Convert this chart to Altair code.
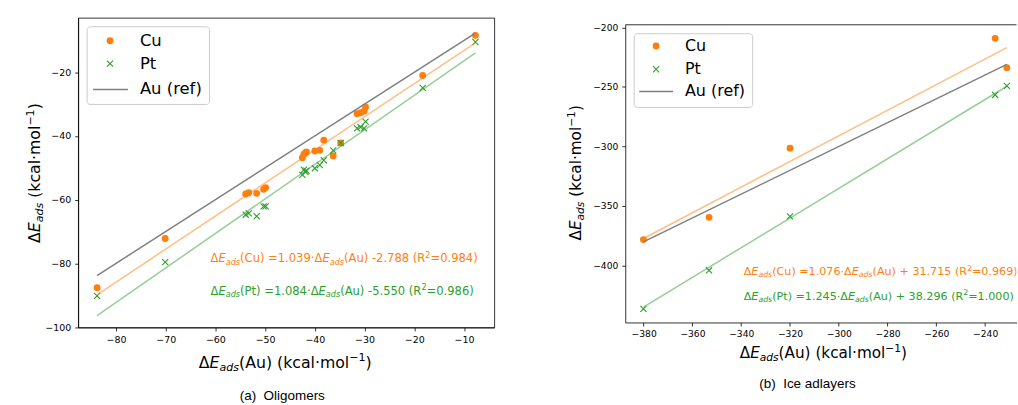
import altair as alt
import pandas as pd

# ---------------- data ----------------
# (a) Oligomers: adsorption energies on Au (x) and on Cu / Pt (y)
olig_au = [-83.8, -70.1, -53.9, -53.3, -51.7, -50.3, -49.9, -42.5, -42.2, -41.9, -41.7,
           -40.0, -39.0, -38.2, -36.3, -34.8, -31.5, -30.8, -30.1, -29.8, -18.3, -7.7]
olig_cu = [-87.6, -72.2, -58.2, -57.8, -58.0, -56.7, -56.2, -46.8, -45.7, -45.3, -45.0,
           -44.7, -44.5, -41.3, -46.3, -42.2, -33.0, -32.7, -32.2, -30.9, -21.0, -8.4]
olig_pt = [-90.2, -79.6, -64.7, -64.3, -65.2, -62.1, -62.1, -52.2, -50.6, -51.2, -50.9,
           -50.1, -49.1, -47.6, -44.5, -42.2, -37.6, -37.2, -37.6, -35.5, -24.9, -10.5]
# (b) Ice adlayers
ice_au = [-380.1, -353.2, -320.0, -235.9, -231.1]
ice_cu = [-378.2, -359.5, -301.4, -209.2, -233.8]
ice_pt = [-436.4, -404.0, -358.7, -256.7, -249.1]

# linear fits shown in the figure: slope, intercept, R^2  (order: Cu, Pt)
olig_slopes = [1.039, 1.084]
olig_inter = [-2.788, -5.550]
olig_r2 = [0.984, 0.986]
ice_slopes = [1.076, 1.245]
ice_inter = [31.715, 38.296]
ice_r2 = [0.969, 1.000]

olig_xticks = [-80, -70, -60, -50, -40, -30, -20, -10]
olig_yticks = [-100, -80, -60, -40, -20]
ice_xticks = [-380, -360, -340, -320, -300, -280, -260, -240]
ice_yticks = [-400, -350, -300, -250, -200]

legend_labels = ["Cu", "Pt", "Au (ref)"]
captions = ["(a)\u00a0\u00a0Oligomers", "(b)\u00a0\u00a0Ice adlayers"]

# ---------------- style ----------------
ORANGE = "#ff7f0e"
GREEN = "#2ca02c"
GRAY = "#7f7f7f"
FONT = "DejaVu Sans"
X_PATH = "M-1,-1L1,1M-1,1L1,-1"

# DejaVu Sans advance widths (em)
W = {" ": 0.318, "(": 0.390, ")": 0.390, "+": 0.838, "-": 0.361, ".": 0.318, "=": 0.838,
     "A": 0.684, "C": 0.698, "E": 0.632, "P": 0.603, "R": 0.695, "a": 0.613, "c": 0.550,
     "d": 0.635, "k": 0.579, "l": 0.278, "m": 0.974, "o": 0.612, "s": 0.521, "t": 0.392,
     "u": 0.634, "\u00b7": 0.318, "\u0394": 0.684, "\u2212": 0.838}
for _d in "0123456789":
    W[_d] = 0.636

ONE = pd.DataFrame({"k": [0]})


def seg_marks(segments, fs, color, base, start=None, center=None, rotated=False, clip=False):
    pieces = []
    for text, kind in segments:
        size = fs * 0.7 if kind in ("sub", "sup") else fs
        shift = 0.18 * fs if kind == "sub" else (-0.42 * fs if kind == "sup" else 0.0)
        w = sum(W.get(c, 0.6) for c in text) * size
        lead = (len(text) - len(text.lstrip(" "))) * W[" "] * size
        pieces.append((text.strip(" "), size, kind in ("i", "sub"), shift, w, lead))
    total = sum(p[4] for p in pieces)
    if rotated:
        pos = center + total / 2
    else:
        pos = start if start is not None else center - total / 2
    layers = []
    for text, size, ital, shift, w, lead in pieces:
        kw = dict(text=text, align="left", baseline="alphabetic", font=FONT, fontSize=size,
                  fontStyle="italic" if ital else "normal", color=color)
        if rotated:
            kw["angle"] = 270
            m = alt.Chart(ONE).mark_text(**kw).encode(x=alt.value(base + shift),
                                                      y=alt.value(pos - lead))
            pos -= w
        else:
            if clip:
                kw["clip"] = True
            m = alt.Chart(ONE).mark_text(**kw).encode(x=alt.value(pos + lead),
                                                      y=alt.value(base + shift))
            pos += w
        layers.append(m)
    return layers


def eq_segments(metal, slope, inter, r2):
    it = f" -{abs(inter):.3f}" if inter < 0 else f" + {inter:.3f}"
    return [("\u0394", "n"), ("E", "i"), ("ads", "sub"), (f"({metal}) ={slope:.3f}", "n"),
            ("\u00b7", "n"), ("\u0394", "n"), ("E", "i"), ("ads", "sub"),
            (f"(Au){it} (R", "n"), ("2", "sup"), (f"={r2:.3f})", "n")]


XT = [("\u0394", "n"), ("E", "i"), ("ads", "sub"), ("(Au) (kcal\u00b7mol", "n"),
      ("\u22121", "sup"), (")", "n")]
YT = [("\u0394", "n"), ("E", "i"), ("ads", "sub"), (" (kcal\u00b7mol", "n"),
      ("\u22121", "sup"), (")", "n")]


def axis(values, fs):
    return alt.Axis(values=values, title=None, grid=False, domainColor="black", domainWidth=0.8,
                    tickColor="black", tickSize=3.5, tickWidth=0.8, labelFont=FONT,
                    labelFontSize=fs, labelColor="black", labelPadding=4,
                    labelOverlap=False, labelFlush=False)


def panel(au, cu, pt, slopes, inters, r2s, xdom, ydom, xticks, yticks, width, height,
          yrange, tick_fs, title_fs, xt_center, xt_base, yt_center, yt_base,
          leg, ann_start, ann_bases, ann_fs, ann_clip, cap, cap_xy, cap_fs, framed):
    xs = alt.Scale(domain=xdom, nice=False, zero=False)
    yk = dict(domain=ydom, nice=False, zero=False)
    if yrange is not None:
        yk["range"] = yrange
    ys = alt.Scale(**yk)
    ax_x = axis(xticks, tick_fs)
    ax_y = axis(yticks, tick_fs)
    X = alt.X("x:Q", scale=xs, axis=ax_x)
    Y = alt.Y("y:Q", scale=ys, axis=ax_y)

    df_cu = pd.DataFrame({"x": au, "y": cu})
    df_pt = pd.DataFrame({"x": au, "y": pt})
    lo, hi = min(au), max(au)
    layers = []
    layers.append(alt.Chart(df_cu).mark_point(filled=True, shape="circle", size=48,
                                               color=ORANGE, opacity=1).encode(x=X, y=Y))
    layers.append(alt.Chart(df_pt).mark_point(filled=False, shape=X_PATH, size=38, color=GREEN,
                                               strokeWidth=1.1, opacity=1).encode(x=X, y=Y))
    for s, b, col in zip(slopes, inters, [ORANGE, GREEN]):
        dfl = pd.DataFrame({"x": [lo, hi], "y": [s * lo + b, s * hi + b]})
        layers.append(alt.Chart(dfl).mark_line(color=col, opacity=0.5, strokeWidth=1.5)
                      .encode(x=X, y=Y))
    dfa = pd.DataFrame({"x": [lo, hi], "y": [lo, hi]})
    layers.append(alt.Chart(dfa).mark_line(color=GRAY, strokeWidth=1.5).encode(x=X, y=Y))

    if not framed:
        layers.append(alt.Chart(ONE).mark_rule(color="black", strokeWidth=0.8).encode(
            x=alt.value(0), x2=alt.value(width), y=alt.value(yrange[1])))

    # legend
    (bx1, by1, bx2, by2, sx, ycu, ypt, yau, lx1, lx2, tx, lfs) = leg
    layers.append(alt.Chart(ONE).mark_rect(fill="white", fillOpacity=0.8, stroke="#cccccc",
                                           strokeWidth=1, cornerRadius=3).encode(
        x=alt.value(bx1), x2=alt.value(bx2), y=alt.value(by1), y2=alt.value(by2)))
    layers.append(alt.Chart(ONE).mark_point(filled=True, shape="circle", size=48, color=ORANGE,
                                            opacity=1).encode(x=alt.value(sx), y=alt.value(ycu)))
    layers.append(alt.Chart(ONE).mark_point(filled=False, shape=X_PATH, size=38, color=GREEN,
                                            strokeWidth=1.1, opacity=1).encode(
        x=alt.value(sx), y=alt.value(ypt)))
    layers.append(alt.Chart(ONE).mark_rule(color=GRAY, strokeWidth=1.5).encode(
        x=alt.value(lx1), x2=alt.value(lx2), y=alt.value(yau)))
    for lab, yy in zip(legend_labels, [ycu, ypt, yau]):
        layers.append(alt.Chart(ONE).mark_text(text=lab, align="left", baseline="middle",
                                               font=FONT, fontSize=lfs, color="black").encode(
            x=alt.value(tx), y=alt.value(yy)))

    # fit equations
    for metal, s, b, r2, col, base in zip(["Cu", "Pt"], slopes, inters, r2s, [ORANGE, GREEN],
                                          ann_bases):
        layers += seg_marks(eq_segments(metal, s, b, r2), ann_fs, col, base, start=ann_start,
                            clip=ann_clip)

    # axis titles
    layers += seg_marks(XT, title_fs, "black", xt_base, center=xt_center)
    layers += seg_marks(YT, title_fs, "black", yt_base, center=yt_center, rotated=True)

    # caption
    layers.append(alt.Chart(ONE).mark_text(text=cap, align="center", baseline="middle",
                                           font="Liberation Sans", fontSize=cap_fs,
                                           color="black").encode(
        x=alt.value(cap_xy[0]), y=alt.value(cap_xy[1])))

    view = (alt.ViewBackground(stroke="black", strokeWidth=0.8) if framed
            else alt.ViewBackground(stroke="transparent"))
    return alt.layer(*layers).properties(width=width, height=height, view=view)


left = panel(olig_au, olig_cu, olig_pt, olig_slopes, olig_inter, olig_r2,
             [-87.6, -3.9], [-100.1, -2.9], olig_xticks, olig_yticks, 418, 311, None,
             9.5, 15.8, 208, 351.7, 156, -38,
             (9, 9, 132, 87, 32, 23, 46, 72, 15, 50, 62, 16.5),
             133, [245.7, 278.0], 11.6, False,
             captions[0], (205, 380), 13.5, True)

right = panel(ice_au, ice_cu, ice_pt, ice_slopes, ice_inter, ice_r2,
              [-387.55, -227.14], [-447.8, -197.8], ice_xticks, ice_yticks, 393, 306, [306, 7],
              9.2, 15.3, 199, 341.7, 155.7, -44.5,
              (9, 16, 128, 90, 31, 28.3, 51.7, 74, 14, 48, 60, 16),
              119, [258.7, 283.0], 11.2, True,
              captions[1], (183, 368), 13.5, False)

# left bound of the rotated y titles (to place the plot areas)
lt_left = -38 - 0.42 * 15.8 - 0.8 * 15.8 * 0.7
rt_left = -44.5 - 0.42 * 15.3 - 0.8 * 15.3 * 0.7
pad_left = 77 + lt_left
spacing = 624 - (77 + 418) + rt_left

chart = alt.hconcat(left, right, spacing=spacing).properties(
    padding={"left": pad_left, "top": 16, "right": 0, "bottom": 0},
    background="white",
)

chart.save("out.html", embed_options={"renderer": "svg", "actions": False})
